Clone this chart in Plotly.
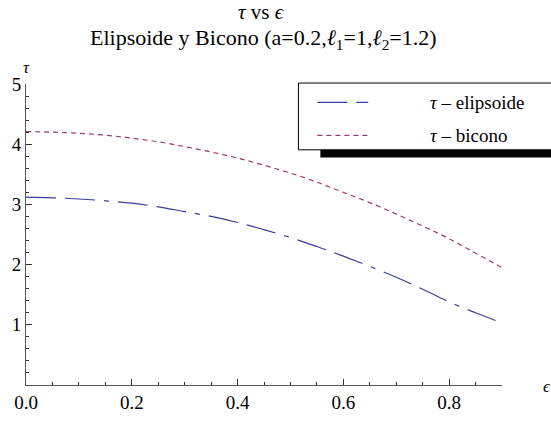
import plotly.graph_objects as go

eps = [0.0, 0.05, 0.1, 0.15, 0.2, 0.25, 0.3, 0.35, 0.4, 0.45, 0.5, 0.55, 0.6, 0.65, 0.7, 0.75, 0.8, 0.85, 0.9]
tau_elipsoide = [3.12, 3.11, 3.09, 3.06, 3.02, 2.96, 2.88, 2.80, 2.70, 2.58, 2.45, 2.30, 2.14, 1.97, 1.79, 1.59, 1.38, 1.20, 1.03]
tau_bicono = [4.21, 4.20, 4.18, 4.15, 4.10, 4.04, 3.96, 3.87, 3.77, 3.65, 3.52, 3.37, 3.20, 3.03, 2.84, 2.64, 2.43, 2.19, 1.95]
x_ticks = [0.0, 0.2, 0.4, 0.6, 0.8]
x_ticklabels = ["0.0", "0.2", "0.4", "0.6", "0.8"]
y_ticks = [1, 2, 3, 4, 5]
y_ticklabels = ["1", "2", "3", "4", "5"]
names = ["<i>τ</i> – elipsoide", "<i>τ</i> – bicono"]

c_e = "#3d3d99"
c_b = "#993d70"
dash_e = "30px,9px,30px,9px,5px,9px"
dash_b = "5px,4px"
FONT = "Liberation Serif, Times New Roman, serif"

fig = go.Figure()
fig.add_trace(go.Scatter(x=eps, y=tau_elipsoide, mode="lines", line=dict(color=c_e, width=1.2, dash=dash_e, shape="spline"), showlegend=False))
fig.add_trace(go.Scatter(x=eps, y=tau_bicono, mode="lines", line=dict(color=c_b, width=1.2, dash=dash_b, shape="spline"), showlegend=False))

L, R, T, B = 25, 49, 84, 30
W, H = 551, 425
pw, ph = W - L - R, H - T - B

def px(x):
    return (x - L) / pw

def py(y):
    return (H - B - y) / ph

shapes = []
# legend shadow and box
shapes.append(dict(type="rect", xref="paper", yref="paper", x0=px(320), x1=px(560), y0=py(160), y1=py(90),
                   fillcolor="black", line=dict(width=0), layer="above"))
shapes.append(dict(type="rect", xref="paper", yref="paper", x0=px(298), x1=px(560), y0=py(152), y1=py(83),
                   fillcolor="white", line=dict(color="black", width=1), layer="above"))
shapes.append(dict(type="line", xref="paper", yref="paper", x0=px(317), x1=px(368), y0=py(103), y1=py(103),
                   line=dict(color=c_e, width=1.2, dash=dash_e), layer="above"))
shapes.append(dict(type="line", xref="paper", yref="paper", x0=px(317), x1=px(368), y0=py(137), y1=py(137),
                   line=dict(color=c_b, width=1.2, dash=dash_b), layer="above"))

annotations = [
    dict(text=names[0], xref="paper", yref="paper", x=px(428), y=py(103), xanchor="left", yanchor="middle",
         showarrow=False, font=dict(family=FONT, size=19, color="black")),
    dict(text=names[1], xref="paper", yref="paper", x=px(428), y=py(137), xanchor="left", yanchor="middle",
         showarrow=False, font=dict(family=FONT, size=19, color="black")),
    dict(text="<i>τ</i> vs <i>ϵ</i>", xref="paper", yref="paper", x=px(261), y=py(10), xanchor="center", yanchor="middle",
         showarrow=False, font=dict(family=FONT, size=21, color="black")),
    dict(text="Elipsoide y Bicono (a=0.2,<i>ℓ</i><sub>1</sub>=1,<i>ℓ</i><sub>2</sub>=1.2)", xref="paper", yref="paper",
         x=px(263), y=py(38), xanchor="center", yanchor="middle",
         showarrow=False, font=dict(family=FONT, size=22, color="black")),
    dict(text="<i>τ</i>", xref="paper", yref="paper", x=px(26), y=py(67), xanchor="center", yanchor="middle",
         showarrow=False, font=dict(family=FONT, size=17, color="black")),
    dict(text="<i>ϵ</i>", xref="paper", yref="paper", x=px(547), y=py(397), xanchor="center", yanchor="middle",
         showarrow=False, font=dict(family=FONT, size=17, color="black")),
]

fig.update_layout(
    width=W, height=H,
    margin=dict(l=L, r=R, t=T, b=B),
    paper_bgcolor="white", plot_bgcolor="white",
    showlegend=False,
    shapes=shapes, annotations=annotations,
    font=dict(family=FONT, size=18, color="black"),
)
fig.update_xaxes(range=[0, 0.9], showgrid=False, zeroline=False, showline=True, linecolor="#555", linewidth=1,
                 tickmode="array", tickvals=x_ticks, ticktext=x_ticklabels, ticks="inside", ticklen=6,
                 tickcolor="#333", tickwidth=1,
                 minor=dict(dtick=0.05, tick0=0, ticks="inside", ticklen=3, tickcolor="#333", tickwidth=1, showgrid=False),
                 tickfont=dict(family=FONT, size=19))
fig.update_yaxes(range=[0, 5], showgrid=False, zeroline=False, showline=True, linecolor="#555", linewidth=1,
                 tickmode="array", tickvals=y_ticks, ticktext=y_ticklabels, ticks="inside", ticklen=6,
                 tickcolor="#333", tickwidth=1,
                 minor=dict(dtick=0.2, tick0=0, ticks="inside", ticklen=3, tickcolor="#333", tickwidth=1, showgrid=False),
                 tickfont=dict(family=FONT, size=19))

fig.write_html("out.html")
